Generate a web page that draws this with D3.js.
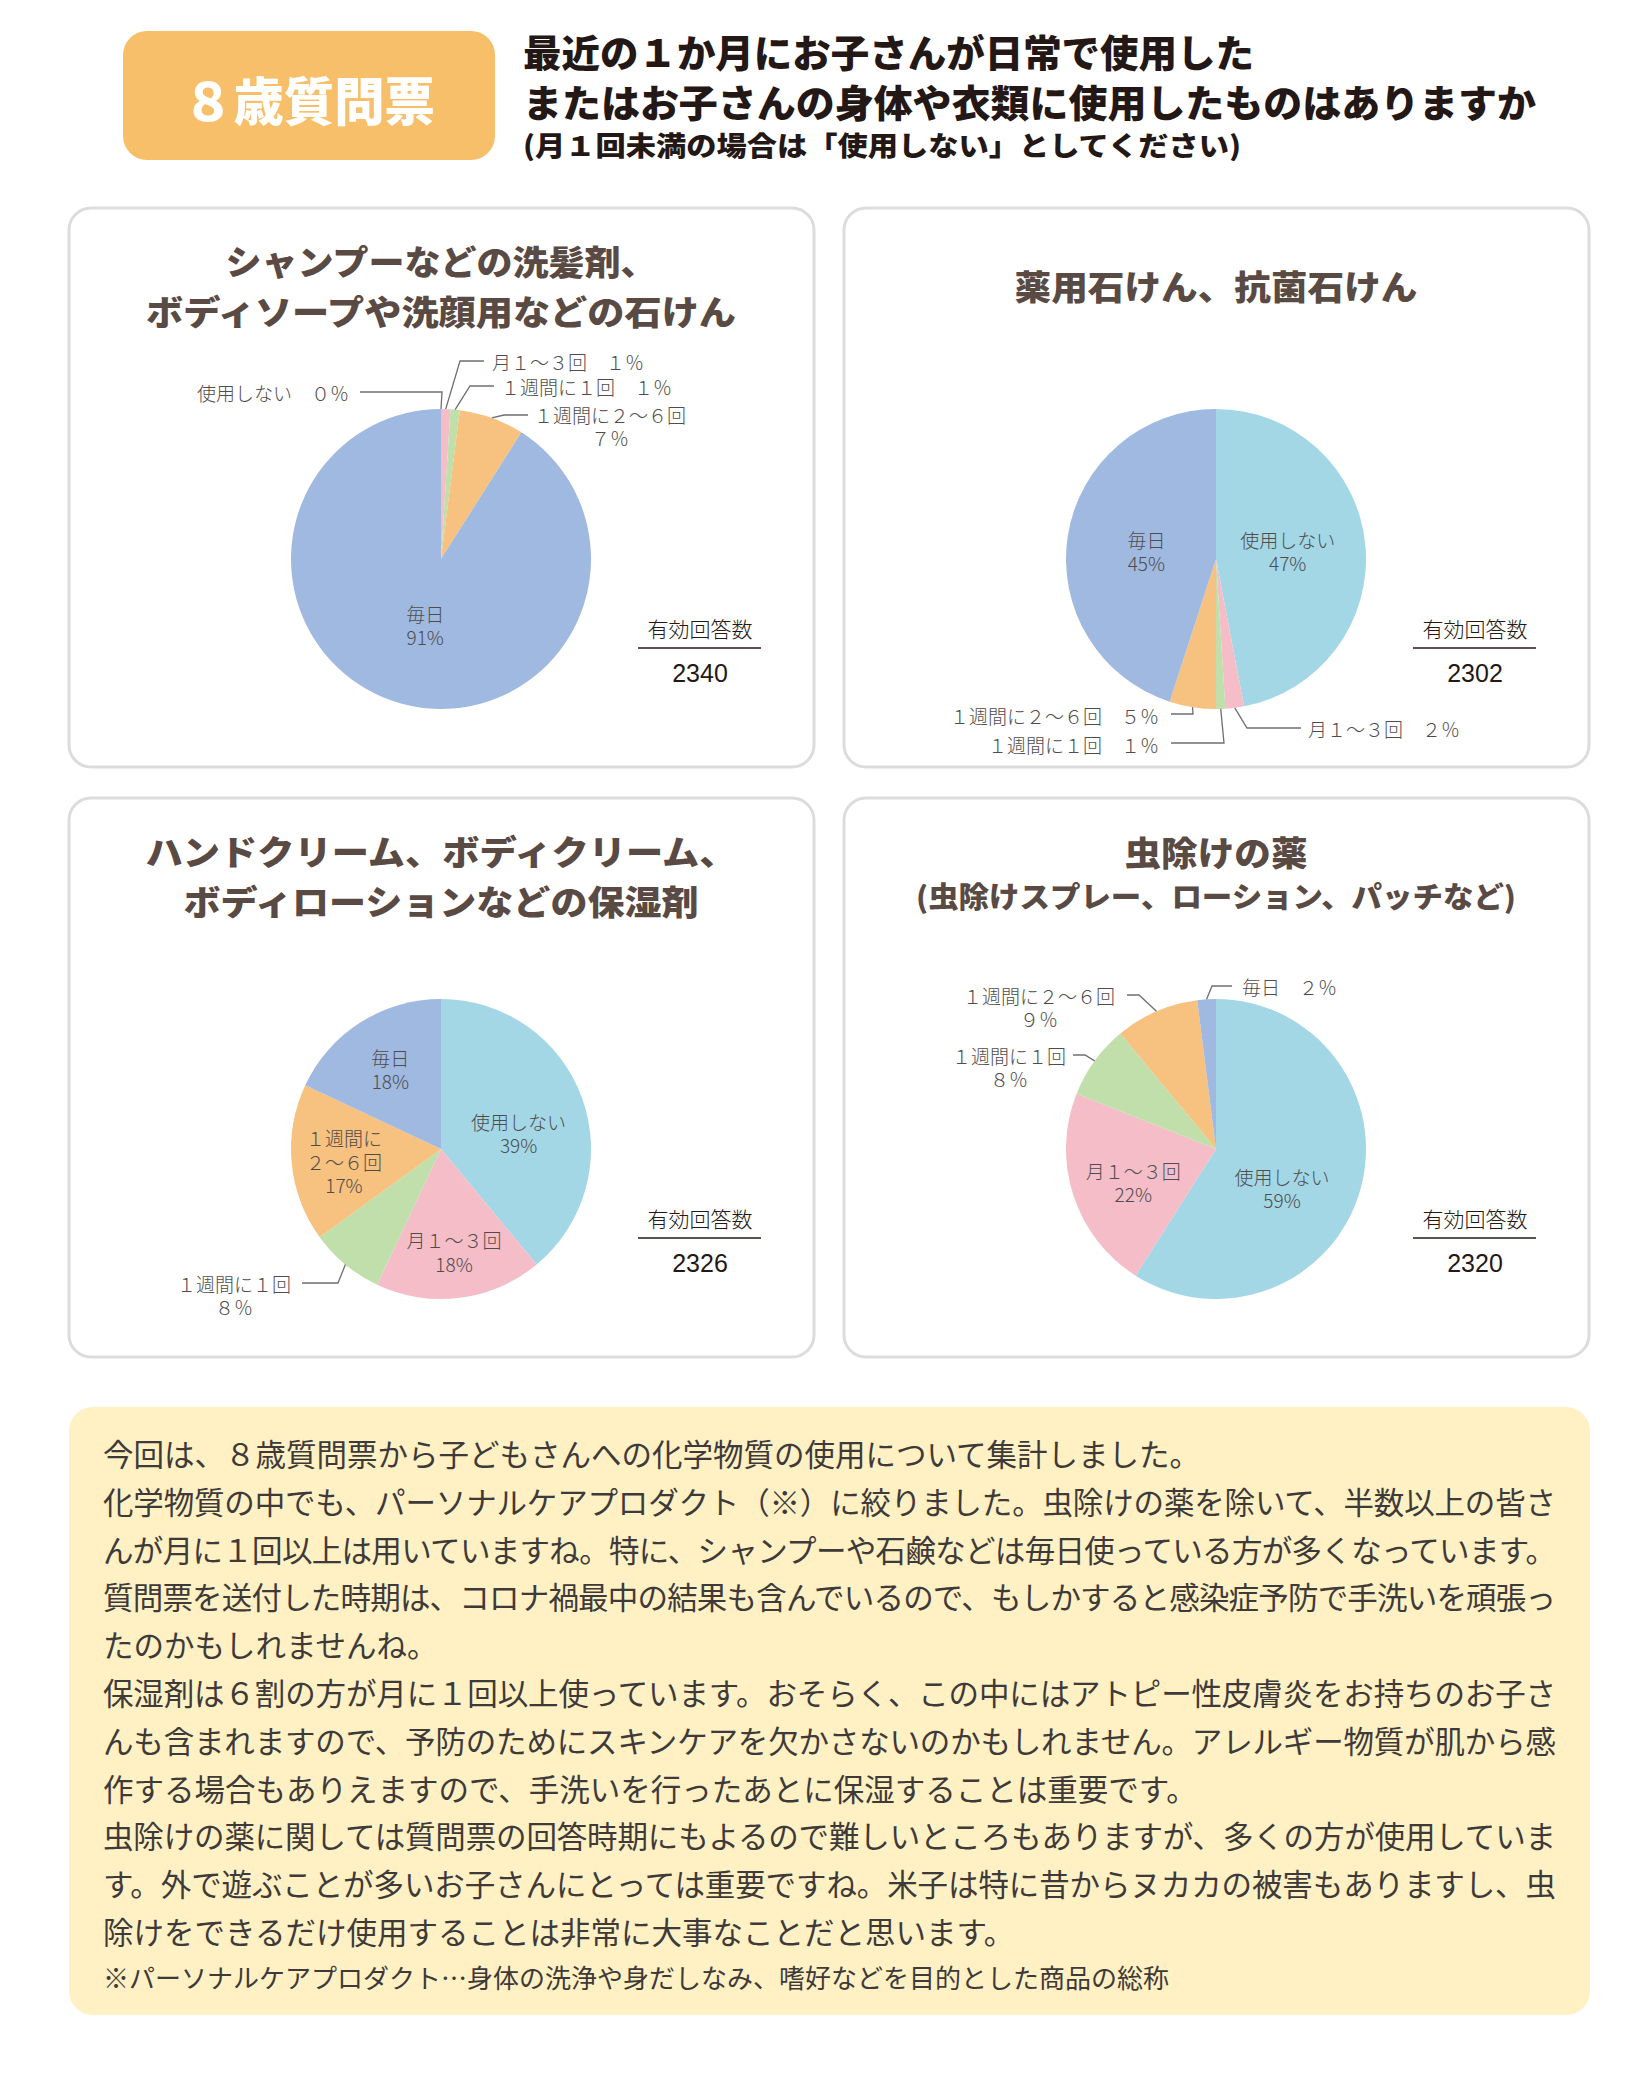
<!DOCTYPE html>
<html><head><meta charset="utf-8">
<script src="https://cdn.jsdelivr.net/npm/d3@7"></script>
<style>body{margin:0;background:#fff}svg{display:block}</style>
</head><body><svg id="c" width="1646" height="2082"></svg>
<script>
// ---------------- data ----------------
const categories = ["使用しない", "月１～３回", "１週間に１回", "１週間に２～６回", "毎日"];
const chartTitles = [
  ["シャンプーなどの洗髪剤、", "ボディソープや洗顔用などの石けん"],
  ["薬用石けん、抗菌石けん"],
  ["ハンドクリーム、ボディクリーム、", "ボディローションなどの保湿剤"],
  ["虫除けの薬"]
];
const chartSubtitles = [null, null, null, "(虫除けスプレー、ローション、パッチなど)"];
const shampooSoapValues = [0, 1, 1, 7, 91];
const medicatedSoapValues = [47, 2, 1, 5, 45];
const moisturizerValues = [39, 18, 8, 17, 18];
const insectRepellentValues = [59, 22, 8, 9, 2];
const responseCounts = [2340, 2302, 2326, 2320];
const responseLabel = "有効回答数";
const headerBadge = "８歳質問票";
const headerLines = [
  "最近の１か月にお子さんが日常で使用した",
  "またはお子さんの身体や衣類に使用したものはありますか",
  "(月１回未満の場合は「使用しない」としてください)"
];
const bodyLines = [
  "今回は、８歳質問票から子どもさんへの化学物質の使用について集計しました。",
  "化学物質の中でも、パーソナルケアプロダクト（※）に絞りました。虫除けの薬を除いて、半数以上の皆さ",
  "んが月に１回以上は用いていますね。特に、シャンプーや石鹸などは毎日使っている方が多くなっています。",
  "質問票を送付した時期は、コロナ禍最中の結果も含んでいるので、もしかすると感染症予防で手洗いを頑張っ",
  "たのかもしれませんね。",
  "保湿剤は６割の方が月に１回以上使っています。おそらく、この中にはアトピー性皮膚炎をお持ちのお子さ",
  "んも含まれますので、予防のためにスキンケアを欠かさないのかもしれません。アレルギー物質が肌から感",
  "作する場合もありえますので、手洗いを行ったあとに保湿することは重要です。",
  "虫除けの薬に関しては質問票の回答時期にもよるので難しいところもありますが、多くの方が使用していま",
  "す。外で遊ぶことが多いお子さんにとっては重要ですね。米子は特に昔からヌカカの被害もありますし、虫",
  "除けをできるだけ使用することは非常に大事なことだと思います。"
];
const bodyJustified = [false, true, true, true, false, true, true, false, true, true, false];
const footnote = "※パーソナルケアプロダクト…身体の洗浄や身だしなみ、嗜好などを目的とした商品の総称";

// ---------------- styles / layout ----------------
const sliceColors = ["#a3d7e6", "#f5bdc8", "#c0dfab", "#f7c17f", "#a0b9e0"];
const FONT = "'Noto Sans CJK JP', 'Noto Sans', sans-serif";
const labelColor = "#4f4c4b";
const titleColor = "#5a4a44";
const svg = d3.select("#c");
const fw = s => s.replace(/[0-9%]/g, ch => ch === "%" ? "％" : String.fromCharCode(ch.charCodeAt(0) + 0xFEE0));

// header
svg.append("rect").attr("x", 123).attr("y", 31).attr("width", 372).attr("height", 129)
  .attr("rx", 24).attr("fill", "#f8bf6b");
svg.append("text").attr("x", 309).attr("y", 98).attr("text-anchor", "middle")
  .attr("dominant-baseline", "central").attr("font-family", FONT).attr("font-weight", 900)
  .attr("font-size", 52).attr("fill", "#fff").attr("textLength", 252).attr("lengthAdjust", "spacingAndGlyphs")
  .text(headerBadge);
const hdrY = [50, 100, 144], hdrSize = [38, 38, 27], hdrLen = [731, 1013, 718];
headerLines.forEach((t, i) => {
  svg.append("text").attr("x", 523).attr("y", hdrY[i]).attr("dominant-baseline", "central")
    .attr("font-family", FONT).attr("font-weight", 900).attr("font-size", hdrSize[i])
    .attr("fill", "#231815").attr("textLength", hdrLen[i]).attr("lengthAdjust", "spacingAndGlyphs").text(t);
});

// panels
const panels = [
  {x: 69, y: 208, values: shampooSoapValues},
  {x: 844, y: 208, values: medicatedSoapValues},
  {x: 69, y: 798, values: moisturizerValues},
  {x: 844, y: 798, values: insectRepellentValues}
];
const titleY = [[260, 310], [285], [850, 900], [851]];
const titleLen = [[431, 590], [403], [591, 515], [183]];
const subtitleY = [null, null, null, 895];
const subtitleLen = 600;

// label layout per chart: inside (k = radius factor of centroid, dx, dy) or outside (leader points, text pos)
const labelLayouts = [
  [
    {out: 1, pts: [[1, -167], [-81, -167]], t: [-92, -167], a: "end"},
    {out: 1, pts: [[19, -198], [43, -198]], t: [51, -198], a: "start"},
    {out: 1, pts: [[29, -173], [53, -173]], t: [60, -173], a: "start"},
    {out: 2, pts: [[63, -144], [87, -144]], t: [169, -145], a: "middle"},
    {k: .45, dx: 3, dy: 1}
  ],
  [
    {k: .48, dx: 0, dy: -1},
    {out: 1, pts: [[31, 169], [85, 169]], t: [92, 169], a: "start"},
    {out: 1, pts: [[8, 184], [-45, 184]], t: [-57, 185], a: "end"},
    {out: 1, pts: [[-23, 155], [-45, 155]], t: [-57, 156], a: "end"},
    {k: .47, dx: 0, dy: 3}
  ],
  [
    {k: .55, dx: 0, dy: 12},
    {k: .69, dx: 0, dy: 0},
    {out: 2, pts: [[-103, 134], [-139, 134]], t: [-207, 134], a: "middle"},
    {k: .65, dx: 0, dy: 3, wrap: 1},
    {k: .63, dx: 0, dy: 0}
  ],
  [
    {k: .5, dx: -6, dy: 18},
    {k: .58, dx: 0, dy: 6},
    {out: 2, pts: [[-131, -94], [-143, -94]], t: [-207, -94], a: "middle"},
    {out: 2, pts: [[-77, -154], [-89, -154]], t: [-177, -154], a: "middle"},
    {out: 1, pts: [[-4, -163], [16, -163]], t: [26, -163], a: "start"}
  ]
];

const R = 150;
const pie = d3.pie().sort(null).value(d => d);
const arc = d3.arc().innerRadius(0).outerRadius(R);

panels.forEach((p, pi) => {
  const g = svg.append("g");
  g.append("rect").attr("x", p.x).attr("y", p.y).attr("width", 745).attr("height", 559)
    .attr("rx", 22).attr("fill", "#fff").attr("stroke", "#dcdcdc").attr("stroke-width", 3);
  const cx = p.x + 372, cy = p.y + 351;
  chartTitles[pi].forEach((t, li) => {
    g.append("text").attr("x", cx).attr("y", titleY[pi][li]).attr("text-anchor", "middle")
      .attr("dominant-baseline", "central").attr("font-family", FONT).attr("font-weight", 900)
      .attr("font-size", 34.5).attr("fill", titleColor)
      .attr("textLength", titleLen[pi][li]).attr("lengthAdjust", "spacingAndGlyphs").text(t);
  });
  if (chartSubtitles[pi]) {
    g.append("text").attr("x", cx).attr("y", subtitleY[pi]).attr("text-anchor", "middle")
      .attr("dominant-baseline", "central").attr("font-family", FONT).attr("font-weight", 900)
      .attr("font-size", 29).attr("fill", titleColor)
      .attr("textLength", subtitleLen).attr("lengthAdjust", "spacingAndGlyphs").text(chartSubtitles[pi]);
  }
  const pg = g.append("g").attr("transform", `translate(${cx},${cy})`);
  const arcs = pie(p.values);
  pg.selectAll("path").data(arcs).join("path").attr("d", arc)
    .attr("fill", (d, i) => sliceColors[i]);

  arcs.forEach((d, i) => {
    const L = labelLayouts[pi][i];
    const name = categories[i];
    const pct = d.data + "%";
    const mid = (d.startAngle + d.endAngle) / 2;
    if (L.out) {
      const p0 = [R * Math.sin(mid), -R * Math.cos(mid)];
      const pts = [p0, ...L.pts];
      pg.append("path").attr("d", d3.line()(pts)).attr("fill", "none")
        .attr("stroke", "#6f6f6f").attr("stroke-width", 1.3);
      const lines = L.out === 1 ? [name + "　" + fw(pct)] : [name, fw(pct)];
      lines.forEach((t, li) => {
        pg.append("text").attr("x", L.t[0]).attr("y", L.t[1] + li * 23.5)
          .attr("text-anchor", L.a).attr("dominant-baseline", "central")
          .attr("font-family", FONT).attr("font-weight", 300).attr("font-size", 19)
          .attr("fill", labelColor).text(t);
      });
    } else {
      const c = d3.arc().innerRadius(0).outerRadius(2 * L.k * R).centroid(d);
      const lines = L.wrap ? [name.slice(0, 4), name.slice(4), pct] : [name, pct];
      const x = c[0] + L.dx, y0 = c[1] + L.dy - (lines.length - 1) * 23.5 / 2;
      lines.forEach((t, li) => {
        pg.append("text").attr("x", x).attr("y", y0 + li * 23.5)
          .attr("text-anchor", "middle").attr("dominant-baseline", "central")
          .attr("font-family", FONT).attr("font-weight", 300).attr("font-size", 19)
          .attr("fill", labelColor).text(t);
      });
    }
  });

  // response count
  const rx = cx + 259;
  g.append("text").attr("x", rx).attr("y", cy + 69).attr("text-anchor", "middle")
    .attr("dominant-baseline", "central").attr("font-family", FONT).attr("font-weight", 300)
    .attr("font-size", 21).attr("fill", "#231815").text(responseLabel);
  g.append("line").attr("x1", cx + 197).attr("x2", cx + 320).attr("y1", cy + 89).attr("y2", cy + 89)
    .attr("stroke", "#231815").attr("stroke-width", 1.5);
  g.append("text").attr("x", rx).attr("y", cy + 114).attr("text-anchor", "middle")
    .attr("dominant-baseline", "central").attr("font-family", "'Liberation Sans', Arial, sans-serif")
    .attr("font-size", 25).attr("fill", "#231815").text(responseCounts[pi]);
});

// body text box
svg.append("rect").attr("x", 69).attr("y", 1407).attr("width", 1521).attr("height", 608)
  .attr("rx", 24).attr("fill", "#fff1c4");
bodyLines.forEach((t, i) => {
  const tx = svg.append("text").attr("x", 103).attr("y", 1453 + i * 47.8)
    .attr("dominant-baseline", "central").attr("font-family", FONT).attr("font-size", 30.5)
    .attr("fill", "#3e3a39").text(t);
  if (bodyJustified[i]) tx.attr("textLength", 1453).attr("lengthAdjust", "spacing");
});
svg.append("text").attr("x", 103).attr("y", 1976).attr("dominant-baseline", "central")
  .attr("font-family", FONT).attr("font-size", 26).attr("fill", "#3e3a39").text(footnote);
</script>
</body></html>
